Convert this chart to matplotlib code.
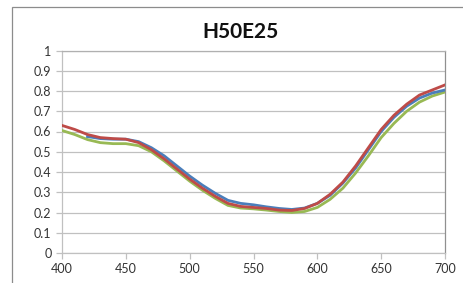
import numpy as np
from matplotlib import pyplot as plt
from matplotlib.patches import Rectangle

# wavelengths (nm)
wl = [400, 410, 420, 430, 440, 450, 460, 470, 480, 490, 500, 510, 520, 530, 540,
      550, 560, 570, 580, 590, 600, 610, 620, 630, 640, 650, 660, 670, 680, 690, 700]

green = [0.605, 0.585, 0.56, 0.545, 0.54, 0.54, 0.53, 0.50, 0.455, 0.405, 0.355,
         0.31, 0.27, 0.235, 0.222, 0.218, 0.212, 0.205, 0.20, 0.205, 0.225,
         0.265, 0.32, 0.395, 0.48, 0.57, 0.64, 0.70, 0.745, 0.775, 0.795]

# blue series starts at 420
wl_blue = wl[2:]
blue = [0.575, 0.565, 0.562, 0.562, 0.55, 0.52, 0.48, 0.43, 0.38, 0.335, 0.295,
        0.26, 0.245, 0.238, 0.228, 0.22, 0.215, 0.222, 0.245, 0.285, 0.345,
        0.42, 0.51, 0.60, 0.67, 0.725, 0.765, 0.79, 0.805]

red = [0.63, 0.61, 0.585, 0.57, 0.565, 0.562, 0.545, 0.51, 0.465, 0.415, 0.365,
       0.32, 0.28, 0.245, 0.23, 0.225, 0.22, 0.212, 0.21, 0.22, 0.245,
       0.29, 0.35, 0.43, 0.52, 0.61, 0.68, 0.735, 0.78, 0.805, 0.83]

xticks = [400, 450, 500, 550, 600, 650, 700]
yticks = [0, 0.1, 0.2, 0.3, 0.4, 0.5, 0.6, 0.7, 0.8, 0.9, 1]
ylabels = ['0', '0.1', '0.2', '0.3', '0.4', '0.5', '0.6', '0.7', '0.8', '0.9', '1']

plt.rcParams['font.family'] = ['Lato', 'DejaVu Sans']

fig = plt.figure(figsize=(4.63, 2.83), dpi=100)
W, H = 463, 283
ax = fig.add_axes([62 / W, 1 - 253 / H, (445 - 62) / W, (253 - 50.5) / H])

# outer chart frame
fig.patches.append(Rectangle((12 / W, -0.1), 1.2, 1 - 7 / H + 0.1,
                             transform=fig.transFigure, fill=False,
                             edgecolor='#8c8c8c', linewidth=0.9))

lw = 2.0
ax.plot(wl, green, color='#98B954', lw=lw, zorder=3, solid_joinstyle='round')
ax.plot(wl_blue, blue, color='#4A7EBB', lw=lw, zorder=4, solid_joinstyle='round')
ax.plot(wl, red, color='#BE4B48', lw=lw, zorder=5, solid_joinstyle='round')

ax.set_xlim(400, 700)
ax.set_ylim(0, 1)
ax.set_xticks(xticks)
ax.set_yticks(yticks)
ax.set_yticklabels(ylabels)
ax.grid(axis='y', color='#c0c0c0', linewidth=0.9)
ax.set_axisbelow(True)

ax.spines['top'].set_color('#b0b0b0')
ax.spines['left'].set_color('#c0c0c0')
ax.spines['bottom'].set_color('#c0c0c0')
ax.spines['right'].set_color('#909090')
for s in ax.spines.values():
    s.set_linewidth(0.9)

ax.tick_params(axis='both', colors='#c0c0c0', labelcolor='#333333',
               labelsize=9, length=4, width=0.9)
ax.tick_params(axis='x', pad=3)

fig.text(241 / W, 1 - 32 / H, 'H50E25', ha='center', va='center',
         fontsize=15, fontweight='bold', color='#111111')

plt.savefig('out.png', dpi=100)
